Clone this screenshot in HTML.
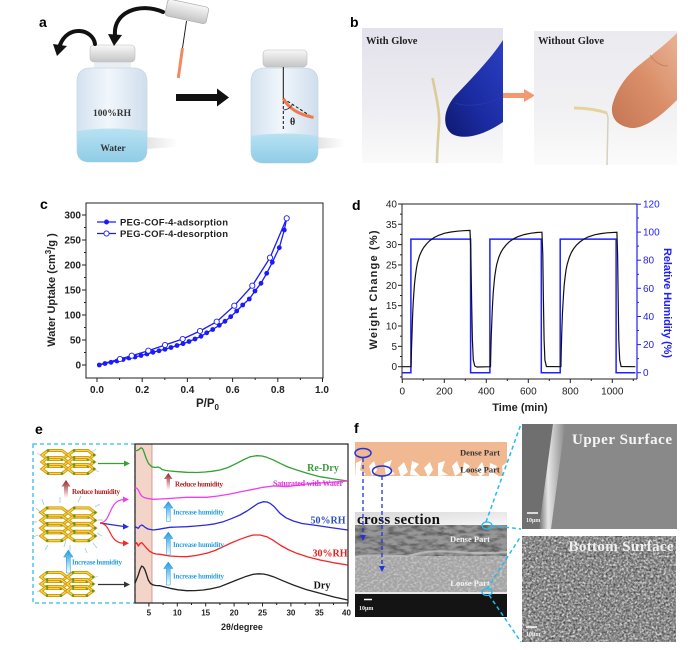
<!DOCTYPE html>
<html><head><meta charset="utf-8">
<style>
html,body{margin:0;padding:0;background:#fff;}
svg{display:block;}
.sans{font-family:"Liberation Sans",Arial,sans-serif;}
.serif{font-family:"Liberation Serif","Times New Roman",serif;}
</style></head><body>
<svg width="688" height="650" viewBox="0 0 688 650" xmlns="http://www.w3.org/2000/svg">
<defs>
 <linearGradient id="capG" x1="0" y1="0" x2="0" y2="1"><stop offset="0" stop-color="#f7f7f7"/><stop offset="1" stop-color="#c4c4c4"/></linearGradient>
 <linearGradient id="bodyG" x1="0" y1="0" x2="1" y2="0"><stop offset="0" stop-color="#d3e2f0"/><stop offset="0.45" stop-color="#f1f6fb"/><stop offset="1" stop-color="#cfdeed"/></linearGradient>
 <linearGradient id="waterG" x1="0" y1="0" x2="0" y2="1"><stop offset="0" stop-color="#b9e2f3"/><stop offset="1" stop-color="#8fcce6"/></linearGradient>
 <linearGradient id="shadowG" x1="0" y1="0" x2="1" y2="0"><stop offset="0" stop-color="#e2e2e2"/><stop offset="1" stop-color="#ffffff"/></linearGradient>
 <linearGradient id="ph1" x1="0" y1="0" x2="0" y2="1"><stop offset="0" stop-color="#e3e1eb"/><stop offset="0.6" stop-color="#eeedf2"/><stop offset="1" stop-color="#fafafa"/></linearGradient>
 <linearGradient id="ph2" x1="0" y1="0" x2="0" y2="1"><stop offset="0" stop-color="#ebeaef"/><stop offset="0.6" stop-color="#f1f1f3"/><stop offset="1" stop-color="#fbfbfb"/></linearGradient>
 <linearGradient id="gloveG" x1="1" y1="0" x2="0" y2="1"><stop offset="0" stop-color="#2a3fc4"/><stop offset="0.6" stop-color="#1a2a9e"/><stop offset="1" stop-color="#0f1a70"/></linearGradient>
 <linearGradient id="skinG" x1="1" y1="0" x2="0" y2="1"><stop offset="0" stop-color="#e9b394"/><stop offset="0.5" stop-color="#d98e68"/><stop offset="1" stop-color="#c47654"/></linearGradient>
 <linearGradient id="upArrR" x1="0" y1="0" x2="0" y2="1"><stop offset="0" stop-color="#9a1f1f"/><stop offset="1" stop-color="#ffffff"/></linearGradient>
 <linearGradient id="upArrB" x1="0" y1="0" x2="0" y2="1"><stop offset="0" stop-color="#1a9be0"/><stop offset="1" stop-color="#ffffff"/></linearGradient>
 <linearGradient id="csTop" x1="0" y1="0" x2="1" y2="1"><stop offset="0" stop-color="#d8d8d8"/><stop offset="1" stop-color="#f8f8f8"/></linearGradient>
 <linearGradient id="band" x1="0" y1="0" x2="1" y2="0"><stop offset="0" stop-color="#6e6e6e"/><stop offset="0.35" stop-color="#e6e6e6"/><stop offset="1" stop-color="#8a8a8a"/></linearGradient>
 <filter id="texD" x="0" y="0" width="1" height="1"><feTurbulence type="fractalNoise" baseFrequency="0.09 0.25" numOctaves="3" seed="4"/><feColorMatrix type="matrix" values="0 0 0 0 0  0 0 0 0 0  0 0 0 0 0  1.8 0 0 0 -0.7"/></filter>
 <filter id="texL" x="0" y="0" width="1" height="1"><feTurbulence type="fractalNoise" baseFrequency="0.35 0.5" numOctaves="2" seed="9"/><feColorMatrix type="matrix" values="0 0 0 0 1  0 0 0 0 1  0 0 0 0 1  2.4 0 0 0 -1.0"/></filter>
 <filter id="texB" x="0" y="0" width="1" height="1"><feTurbulence type="fractalNoise" baseFrequency="0.45" numOctaves="2" seed="2"/><feColorMatrix type="matrix" values="0 0 0 0 1  0 0 0 0 1  0 0 0 0 1  3.2 0 0 0 -1.35"/></filter>
 <filter id="texB2" x="0" y="0" width="1" height="1"><feTurbulence type="fractalNoise" baseFrequency="0.5" numOctaves="2" seed="7"/><feColorMatrix type="matrix" values="0 0 0 0 0  0 0 0 0 0  0 0 0 0 0  2.6 0 0 0 -1.05"/></filter>
 <g id="ring">
  <polygon points="-13,0 -7,-4.5 7,-4.5 13,0 7,4.5 -7,4.5" fill="none" stroke="#d49c10" stroke-width="3"/>
  <polygon points="-13,0 -7,-4.5 7,-4.5 13,0 7,4.5 -7,4.5" fill="none" stroke="#f7d748" stroke-width="1.1"/>
  <circle cx="-7" cy="-4.5" r="1.3" fill="#5c9a1c"/><circle cx="7" cy="4.5" r="1.3" fill="#5c9a1c"/><circle cx="13" cy="0" r="1.3" fill="#5c9a1c"/><circle cx="-7" cy="4.5" r="1.2" fill="#5c9a1c"/>
 </g>
 <g id="layer"><use href="#ring" x="-13" y="0"/><use href="#ring" x="13" y="0"/></g>
 <g id="cof"><use href="#layer" y="-7"/><use href="#layer" y="0"/><use href="#layer" y="7"/></g>
</defs>

<!-- ================= PANEL A ================= -->
<text class="sans" x="39" y="27" font-size="14" font-weight="bold">a</text>
<polygon points="145,137 178,139 178,147 145,149" fill="url(#shadowG)"/>
<polygon points="316,137 345,139 345,147 316,149" fill="url(#shadowG)"/>
<rect x="94" y="60" width="37" height="10" fill="#e9eef3"/>
<path d="M77,82 Q77,68 91,68 L133,68 Q147,68 147,82 L147,150 Q147,162 134,162 L90,162 Q77,162 77,150 Z" fill="url(#bodyG)" stroke="#c9d7e4" stroke-width="0.8"/>
<path d="M77,131 Q112,126 147,131 L147,150 Q147,162 134,162 L90,162 Q77,162 77,150 Z" fill="url(#waterG)"/>
<rect x="90" y="45" width="45" height="17" rx="4" fill="url(#capG)" stroke="#bdbdbd" stroke-width="0.6"/>
<text class="serif" x="112" y="116" font-size="9.5" font-weight="bold" text-anchor="middle" fill="#333">100%RH</text>
<text class="serif" x="113" y="151" font-size="9.5" font-weight="bold" text-anchor="middle" fill="#333">Water</text>
<path d="M95,44 C93,29 68,24 60,45" fill="none" stroke="#111" stroke-width="4" stroke-linecap="round"/>
<polygon points="53,44 67,46 57,56" fill="#111"/>
<path d="M163,12 C140,2 113,12 115,35" fill="none" stroke="#111" stroke-width="4" stroke-linecap="round"/>
<polygon points="108,34 122,35 114,46" fill="#111"/>
<g transform="translate(187,11) rotate(12)"><rect x="-21" y="-8" width="42" height="17" rx="3" fill="url(#capG)" stroke="#aaa" stroke-width="0.7"/></g>
<line x1="186.5" y1="21" x2="182.5" y2="48" stroke="#111" stroke-width="0.9"/>
<line x1="182.5" y1="48" x2="178.3" y2="78" stroke="#f08a60" stroke-width="3"/>
<rect x="176" y="94" width="42" height="7" fill="#111"/>
<polygon points="217,88.5 229,97.5 217,106.5" fill="#111"/>
<rect x="266" y="63" width="38" height="8" fill="#e9eef3"/>
<path d="M251,82 Q251,68 265,68 L304,68 Q318,68 318,82 L318,151 Q318,163 305,163 L264,163 Q251,163 251,151 Z" fill="url(#bodyG)" stroke="#c9d7e4" stroke-width="0.8"/>
<path d="M251,136 Q284,131 318,136 L318,151 Q318,163 305,163 L264,163 Q251,163 251,151 Z" fill="url(#waterG)"/>
<rect x="263" y="50" width="44" height="17" rx="4" fill="url(#capG)" stroke="#bdbdbd" stroke-width="0.6"/>
<line x1="283.3" y1="67" x2="283.3" y2="99" stroke="#111" stroke-width="1"/>
<line x1="283.3" y1="101" x2="283.3" y2="131" stroke="#111" stroke-width="1" stroke-dasharray="3,2"/>
<line x1="283.3" y1="98.5" x2="312" y2="117" stroke="#111" stroke-width="1" stroke-dasharray="3,2"/>
<path d="M283.3,98.5 Q291,113 313.5,117.5" fill="none" stroke="#f07a50" stroke-width="3"/>
<path d="M283.3,110 Q289,110 293,104" fill="none" stroke="#333" stroke-width="0.7"/>
<text class="serif" x="290" y="125" font-size="10" font-weight="bold" fill="#222">θ</text>

<!-- ================= PANEL B ================= -->
<text class="sans" x="350" y="27" font-size="14" font-weight="bold">b</text>
<rect x="362" y="28" width="141" height="135" fill="url(#ph1)"/>
<path d="M503,40 C490,60 470,80 455,96 C443,110 442,127 452,134 C465,141 486,134 503,122 Z" fill="url(#gloveG)"/>
<path d="M455,103 C470,108 490,104 503,96" fill="none" stroke="#2c3db0" stroke-width="1" opacity="0.6"/>
<path d="M432.5,78 C436,95 440,112 439,125 C438,138 437,150 437,163" fill="none" stroke="#dccb94" stroke-width="2.6"/>
<line x1="437" y1="140" x2="437" y2="163" stroke="#cfcfcf" stroke-width="1"/>
<text class="serif" x="366" y="44" font-size="10.5" font-weight="bold" fill="#222">With Glove</text>
<rect x="503" y="93" width="22" height="5" fill="#f59872"/>
<polygon points="524,89 535,95.5 524,102" fill="#f59872"/>
<rect x="534" y="31" width="143" height="134" fill="url(#ph2)"/>
<path d="M677,33 C665,45 648,58 637,67 C625,77 615,92 612,107 C611,118 617,126 631,128 C645,129 662,115 677,100 Z" fill="url(#skinG)"/>
<path d="M650,55 C655,62 660,66 668,66" fill="none" stroke="#b66848" stroke-width="0.8" opacity="0.6"/>
<path d="M574,108 C585,108 598,110 607,113" fill="none" stroke="#e6d29c" stroke-width="3"/>
<path d="M607,113 L608,118 L607,165" fill="none" stroke="#d6d0bf" stroke-width="1.5"/>
<text class="serif" x="538" y="44" font-size="10.5" font-weight="bold" fill="#222">Without Glove</text>

<!-- ================= PANEL C ================= -->
<text class="sans" x="40" y="209" font-size="14" font-weight="bold">c</text>
<rect x="86" y="203" width="237" height="175" fill="none" stroke="#222" stroke-width="1"/>
<g stroke="#222" stroke-width="1">
 <line x1="82" y1="365" x2="86" y2="365"/><line x1="82" y1="340" x2="86" y2="340"/><line x1="82" y1="315" x2="86" y2="315"/><line x1="82" y1="290" x2="86" y2="290"/><line x1="82" y1="265" x2="86" y2="265"/><line x1="82" y1="240" x2="86" y2="240"/><line x1="82" y1="215" x2="86" y2="215"/>
 <line x1="84" y1="352.5" x2="86" y2="352.5"/><line x1="84" y1="327.5" x2="86" y2="327.5"/><line x1="84" y1="302.5" x2="86" y2="302.5"/><line x1="84" y1="277.5" x2="86" y2="277.5"/><line x1="84" y1="252.5" x2="86" y2="252.5"/><line x1="84" y1="227.5" x2="86" y2="227.5"/>
 <line x1="97" y1="378" x2="97" y2="382"/><line x1="142.2" y1="378" x2="142.2" y2="382"/><line x1="187.4" y1="378" x2="187.4" y2="382"/><line x1="232.6" y1="378" x2="232.6" y2="382"/><line x1="277.8" y1="378" x2="277.8" y2="382"/><line x1="322.5" y1="378" x2="322.5" y2="382"/>
 <line x1="119.6" y1="378" x2="119.6" y2="380"/><line x1="164.8" y1="378" x2="164.8" y2="380"/><line x1="210" y1="378" x2="210" y2="380"/><line x1="255.2" y1="378" x2="255.2" y2="380"/><line x1="300.4" y1="378" x2="300.4" y2="380"/>
</g>
<g class="sans" font-size="10" font-weight="bold" fill="#222" text-anchor="end">
 <text x="81" y="368.5">0</text><text x="81" y="343.5">50</text><text x="81" y="318.5">100</text><text x="81" y="293.5">150</text><text x="81" y="268.5">200</text><text x="81" y="243.5">250</text><text x="81" y="218.5">300</text>
</g>
<g class="sans" font-size="10" font-weight="bold" fill="#222" text-anchor="middle">
 <text x="97" y="393">0.0</text><text x="142.2" y="393">0.2</text><text x="187.4" y="393">0.4</text><text x="232.6" y="393">0.6</text><text x="277.8" y="393">0.8</text><text x="322" y="393">1.0</text>
</g>
<text class="sans" transform="translate(55,290) rotate(-90)" font-size="11" font-weight="bold" fill="#222" text-anchor="middle">Water Uptake (cm<tspan font-size="8" dy="-4">3</tspan><tspan dy="4">/g )</tspan></text>
<text class="sans" x="196" y="407" font-size="11.5" font-weight="bold" fill="#222">P/P<tspan font-size="8" dy="3">0</tspan></text>
<line x1="97" y1="222" x2="116" y2="222" stroke="#1a1aff" stroke-width="1.3"/><circle cx="106.5" cy="222" r="2.5" fill="#1a1aff"/>
<text class="sans" x="120" y="225.5" font-size="9.5" font-weight="bold" fill="#222" textLength="108">PEG-COF-4-adsorption</text>
<line x1="97" y1="233.5" x2="116" y2="233.5" stroke="#1a1aff" stroke-width="1.3"/><circle cx="106.5" cy="233.5" r="2.6" fill="#fff" stroke="#1a1aff" stroke-width="0.9"/>
<text class="sans" x="120" y="237" font-size="9.5" font-weight="bold" fill="#222" textLength="108">PEG-COF-4-desorption</text>
<polyline fill="none" stroke="#1a1aff" stroke-width="1.3" points="100,364.5 120,359 131.7,355.7 148.3,350.7 165,345 182.7,339 200,331 216.7,321.7 234.3,305.7 252.3,285.7 270,257.7 286.7,218.3"/>
<polyline fill="none" stroke="#1a1aff" stroke-width="1.3" points="99.3,365 105,363.5 111,362.3 117,361 123,359.5 129,358 135,357 141,355.5 147,354 153,352.3 159,350.8 165,349.3 171,347.5 177,345.5 183,343.7 189,341.5 195,339 201,336.3 206.7,332.8 212.7,329.5 219.3,325.3 225,321.3 230.7,316.7 236.7,311 242.7,305 249.3,299 255,291 261,283.3 266.7,273.3 272.3,262.3 279.3,247.7 284.3,230 286.7,218.3"/>
<g fill="#1a1aff">
 <circle cx="99.3" cy="365" r="2.4"/><circle cx="105" cy="363.5" r="2.4"/><circle cx="111" cy="362.3" r="2.4"/><circle cx="117" cy="361" r="2.4"/><circle cx="123" cy="359.5" r="2.4"/><circle cx="129" cy="358" r="2.4"/><circle cx="135" cy="357" r="2.4"/><circle cx="141" cy="355.5" r="2.4"/><circle cx="147" cy="354" r="2.4"/><circle cx="153" cy="352.3" r="2.4"/><circle cx="159" cy="350.8" r="2.4"/><circle cx="165" cy="349.3" r="2.4"/><circle cx="171" cy="347.5" r="2.4"/><circle cx="177" cy="345.5" r="2.4"/><circle cx="183" cy="343.7" r="2.4"/><circle cx="189" cy="341.5" r="2.4"/><circle cx="195" cy="339" r="2.4"/><circle cx="201" cy="336.3" r="2.4"/><circle cx="206.7" cy="332.8" r="2.4"/><circle cx="212.7" cy="329.5" r="2.4"/><circle cx="219.3" cy="325.3" r="2.4"/><circle cx="225" cy="321.3" r="2.4"/><circle cx="230.7" cy="316.7" r="2.4"/><circle cx="236.7" cy="311" r="2.4"/><circle cx="242.7" cy="305" r="2.4"/><circle cx="249.3" cy="299" r="2.4"/><circle cx="255" cy="291" r="2.4"/><circle cx="261" cy="283.3" r="2.4"/><circle cx="266.7" cy="273.3" r="2.4"/><circle cx="272.3" cy="262.3" r="2.4"/><circle cx="279.3" cy="247.7" r="2.4"/><circle cx="284.3" cy="230" r="2.4"/>
</g>
<g fill="#fff" stroke="#1a1aff" stroke-width="0.9">
 <circle cx="120" cy="359" r="2.6"/><circle cx="131.7" cy="355.7" r="2.6"/><circle cx="148.3" cy="350.7" r="2.6"/><circle cx="165" cy="345" r="2.6"/><circle cx="182.7" cy="339" r="2.6"/><circle cx="200" cy="331" r="2.6"/><circle cx="216.7" cy="321.7" r="2.6"/><circle cx="234.3" cy="305.7" r="2.6"/><circle cx="252.3" cy="285.7" r="2.6"/><circle cx="270" cy="257.7" r="2.6"/><circle cx="286.7" cy="218.3" r="2.6"/>
</g>

<!-- ================= PANEL D ================= -->
<text class="sans" x="352" y="210" font-size="14" font-weight="bold">d</text>
<polyline fill="none" stroke="#222" stroke-width="1" points="637,204 402,204 402,379 637,379"/>
<line x1="637" y1="204" x2="637" y2="379" stroke="#2020ff" stroke-width="1.2"/>
<g stroke="#222" stroke-width="1">
 <line x1="398" y1="366.7" x2="402" y2="366.7"/><line x1="398" y1="346.35" x2="402" y2="346.35"/><line x1="398" y1="326" x2="402" y2="326"/><line x1="398" y1="305.65" x2="402" y2="305.65"/><line x1="398" y1="285.3" x2="402" y2="285.3"/><line x1="398" y1="264.95" x2="402" y2="264.95"/><line x1="398" y1="244.6" x2="402" y2="244.6"/><line x1="398" y1="224.25" x2="402" y2="224.25"/><line x1="398" y1="204" x2="402" y2="204"/>
 <line x1="400" y1="376.9" x2="402" y2="376.9"/><line x1="400" y1="356.5" x2="402" y2="356.5"/><line x1="400" y1="336.2" x2="402" y2="336.2"/><line x1="400" y1="315.8" x2="402" y2="315.8"/><line x1="400" y1="295.5" x2="402" y2="295.5"/><line x1="400" y1="275.1" x2="402" y2="275.1"/><line x1="400" y1="254.8" x2="402" y2="254.8"/><line x1="400" y1="234.4" x2="402" y2="234.4"/><line x1="400" y1="214.1" x2="402" y2="214.1"/>
 <line x1="402.3" y1="379" x2="402.3" y2="383"/><line x1="444.3" y1="379" x2="444.3" y2="383"/><line x1="486.3" y1="379" x2="486.3" y2="383"/><line x1="528.3" y1="379" x2="528.3" y2="383"/><line x1="570.3" y1="379" x2="570.3" y2="383"/><line x1="612.3" y1="379" x2="612.3" y2="383"/>
 <line x1="423.3" y1="379" x2="423.3" y2="381"/><line x1="465.3" y1="379" x2="465.3" y2="381"/><line x1="507.3" y1="379" x2="507.3" y2="381"/><line x1="549.3" y1="379" x2="549.3" y2="381"/><line x1="591.3" y1="379" x2="591.3" y2="381"/><line x1="633.3" y1="379" x2="633.3" y2="381"/>
</g>
<g stroke="#2020ff" stroke-width="1">
 <line x1="637" y1="372.7" x2="641" y2="372.7"/><line x1="637" y1="344.6" x2="641" y2="344.6"/><line x1="637" y1="316.5" x2="641" y2="316.5"/><line x1="637" y1="288.3" x2="641" y2="288.3"/><line x1="637" y1="260.2" x2="641" y2="260.2"/><line x1="637" y1="232.1" x2="641" y2="232.1"/><line x1="637" y1="204.2" x2="641" y2="204.2"/>
 <line x1="637" y1="358.6" x2="639" y2="358.6"/><line x1="637" y1="330.5" x2="639" y2="330.5"/><line x1="637" y1="302.4" x2="639" y2="302.4"/><line x1="637" y1="274.3" x2="639" y2="274.3"/><line x1="637" y1="246.1" x2="639" y2="246.1"/><line x1="637" y1="218" x2="639" y2="218"/>
</g>
<g class="sans" font-size="10" fill="#222" text-anchor="end">
 <text x="397" y="370.2">0</text><text x="397" y="349.9">5</text><text x="397" y="329.5">10</text><text x="397" y="309.2">15</text><text x="397" y="288.8">20</text><text x="397" y="268.5">25</text><text x="397" y="248.1">30</text><text x="397" y="227.8">35</text><text x="397" y="207.5">40</text>
</g>
<g class="sans" font-size="10" fill="#2020ff">
 <text x="643" y="376.2">0</text><text x="643" y="348.1">20</text><text x="643" y="320">40</text><text x="643" y="291.8">60</text><text x="643" y="263.7">80</text><text x="643" y="235.6">100</text><text x="643" y="207.7">120</text>
</g>
<g class="sans" font-size="10" fill="#222" text-anchor="middle">
 <text x="402.3" y="394.5">0</text><text x="444.3" y="394.5">200</text><text x="486.3" y="394.5">400</text><text x="528.3" y="394.5">600</text><text x="570.3" y="394.5">800</text><text x="612.3" y="394.5">1000</text>
</g>
<text class="sans" transform="translate(377,290) rotate(-90)" font-size="11" font-weight="bold" fill="#222" text-anchor="middle" textLength="119">Weight Change (%)</text>
<text class="sans" transform="translate(664,303) rotate(90)" font-size="11" font-weight="bold" fill="#2020ff" text-anchor="middle" textLength="110">Relative Humidity (%)</text>
<text class="sans" x="520" y="411" font-size="11" font-weight="bold" fill="#222" text-anchor="middle">Time (min)</text>
<path d="M402.3,372.7 H410.9 V239.1 H470.6 V372.7 H489.9 V239.1 H541.3 V372.7 H560.2 V239.1 H616.1 V372.7 H635.4" fill="none" stroke="#2020ff" stroke-width="1.5"/>
<polyline fill="none" stroke="#111" stroke-width="1.2" points="402.3,366.7 411.1,366.7 411.5,348.9 412,334.1 412.4,321.8 412.8,311.5 413.2,302.8 413.9,292.3 414.5,284.2 415.4,275.9 416.4,268.5 417.4,263.1 419.5,255.8 421.6,251.1 423.7,247.5 426.9,243.5 430,240.5 434.2,237.5 438.4,235.4 444.7,233.2 451,232 457.3,231.2 463.6,230.7 470,230.4 470.8,250 471.6,300 472.4,340 473.3,360 474.8,366 476.9,367 490.5,366.7 490.9,349.1 491.3,334.5 491.8,322.2 492.2,312 492.6,303.5 493.2,293.1 493.9,285 494.7,276.8 495.8,269.4 496.8,264.1 498.9,256.9 501,252.2 503.1,248.7 506.3,244.7 509.4,241.7 513.6,238.8 517.8,236.7 524.1,234.6 530.4,233.3 536.7,232.5 541.95,232.2 542.8,255 543.4,300 544.1,340 544.9,360 546.4,366.5 560.9,366.7 561.3,349.1 561.7,334.5 562.1,322.3 562.5,312.1 563,303.6 563.6,293.2 564.2,285.1 565.1,277 566.1,269.6 567.2,264.3 569.3,257.2 571.4,252.4 573.5,248.9 576.6,244.9 579.8,242 584,239 588.2,236.9 594.5,234.8 600.8,233.6 607.1,232.8 616.9,232.3 617.6,255 618.2,300 618.8,340 619.7,360 621.1,366.5 635.4,366.7"/>

<!-- ================= PANEL E ================= -->
<text class="sans" x="35" y="434" font-size="14" font-weight="bold">e</text>
<rect x="33" y="444" width="102" height="159" fill="none" stroke="#33bbee" stroke-width="1.3" stroke-dasharray="4,3"/>
<rect x="135" y="444" width="17" height="159" fill="#f3d4c9" stroke="#c88a78" stroke-width="0.8"/>
<rect x="135" y="444" width="213" height="159" fill="none" stroke="#222" stroke-width="1.2"/>
<g stroke="#222" stroke-width="1">
 <line x1="148.9" y1="603" x2="148.9" y2="606.5"/><line x1="177.3" y1="603" x2="177.3" y2="606.5"/><line x1="205.7" y1="603" x2="205.7" y2="606.5"/><line x1="234.1" y1="603" x2="234.1" y2="606.5"/><line x1="262.5" y1="603" x2="262.5" y2="606.5"/><line x1="290.9" y1="603" x2="290.9" y2="606.5"/><line x1="319.3" y1="603" x2="319.3" y2="606.5"/><line x1="347.7" y1="603" x2="347.7" y2="606.5"/>
 <line x1="163.1" y1="603" x2="163.1" y2="605"/><line x1="191.5" y1="603" x2="191.5" y2="605"/><line x1="219.9" y1="603" x2="219.9" y2="605"/><line x1="248.3" y1="603" x2="248.3" y2="605"/><line x1="276.7" y1="603" x2="276.7" y2="605"/><line x1="305.1" y1="603" x2="305.1" y2="605"/><line x1="333.5" y1="603" x2="333.5" y2="605"/>
</g>
<g class="sans" font-size="8" font-weight="bold" fill="#222" text-anchor="middle">
 <text x="148.9" y="615.5">5</text><text x="177.3" y="615.5">10</text><text x="205.7" y="615.5">15</text><text x="234.1" y="615.5">20</text><text x="262.5" y="615.5">25</text><text x="290.9" y="615.5">30</text><text x="319.3" y="615.5">35</text><text x="346.5" y="615.5">40</text>
</g>
<text class="sans" x="242" y="630" font-size="9" font-weight="bold" fill="#222" text-anchor="middle">2θ/degree</text>
<polyline fill="none" stroke="#33a133" stroke-width="1.3" stroke-linejoin="round" points="135,450.7 137,450.5 139,449.5 141,447.8 142.5,448.5 144,452 146,458 148.5,463.5 151.7,466.7 155,467.5 158,467 160,467.8 162,469.5 166,470.5 170,471 178,471.7 187,472.3 197,472.5 205,472 212,471.3 220,470 228,467.5 236.7,463.3 244,459.5 250,456.8 256.7,455.7 262,456 266.7,457.3 273,459.8 280,463.3 288,467 296.7,470 308,473.5 320,476.7 334,479 347.7,481"/>
<polyline fill="none" stroke="#f23cf2" stroke-width="1.3" stroke-linejoin="round" points="135,488.3 136.5,488 138.3,490 140,493.5 141.7,496 144,497.5 146.7,498.3 153.3,499.3 160,499 166.7,498.7 176,498 186.7,497.3 196,497.3 206.7,497.3 218,496 230,494 242,491.5 253.3,489.3 263,487.3 273.3,486 280,486.2 286.7,486.7 296,485.5 306.7,484 320,483 334,482 347.7,481"/>
<polyline fill="none" stroke="#2b2bdd" stroke-width="1.3" stroke-linejoin="round" points="135,526.7 136.7,527.5 138.3,528.3 140,526 141.7,525 143.3,525.8 145,527.3 148,529 153.3,530 158.3,529.3 164,528.3 170,527.3 178,527 186.7,526.7 196,526 206.7,525 215,523.8 223.3,521.7 231,518.8 240,515 247,511 253.3,506.7 258,503.5 263.3,501.7 267,502 270,503.3 274,506.5 280,513.3 286,517.8 293.3,521 302,523.5 313.3,525 330,527.5 347.7,530"/>
<polyline fill="none" stroke="#f52525" stroke-width="1.3" stroke-linejoin="round" points="135,545 136.7,542.7 138.3,546 140,543.5 141.7,542.7 143.5,544.5 146.7,548.3 150,551.5 153.3,553.3 156,554 160,554.3 165,555.2 170,556 178,556.5 186.7,556.7 196,555.5 206.7,553.3 215,550.5 223.3,546.7 231,543 240,539.3 247,536.8 253.3,535 260,535 266.7,536.7 273,540.2 280,545 288,549.5 296.7,553.3 308,557 320,560 334,562.8 347.7,565"/>
<polyline fill="none" stroke="#222" stroke-width="1.3" stroke-linejoin="round" points="135,583.3 136.7,579 138.3,575 140,569.5 141.7,566 143.3,567 145,570 146.7,575 148.3,580 150.5,583.5 153.3,585 156,585.5 160,585.7 165,587 170,588.3 178,589.8 186.7,590.7 195,590.6 203.3,590 211,588.8 220,586.7 228,583.5 236.7,580 245,576.8 253.3,574.3 258,573.8 263.3,574 268,575 273.3,576.7 283,580.8 293.3,585 306,589.5 320,593.3 334,597 347.7,600"/>
<text class="serif" x="323" y="471" font-size="10" font-weight="bold" fill="#3a9a3a" text-anchor="middle">Re-Dry</text>
<text class="serif" x="308" y="486" font-size="8" font-weight="bold" fill="#e22ee2" text-anchor="middle" textLength="70">Saturated with Water</text>
<text class="serif" x="328" y="523.5" font-size="10" font-weight="bold" fill="#2f4fc0" text-anchor="middle">50%RH</text>
<text class="serif" x="330" y="556.5" font-size="10" font-weight="bold" fill="#e02020" text-anchor="middle">30%RH</text>
<text class="serif" x="322" y="588.5" font-size="10" font-weight="bold" fill="#111" text-anchor="middle">Dry</text>
<polygon points="168.3,473 172.5,479 170,479 170,490 166.6,490 166.6,479 164,479" fill="url(#upArrR)"/>
<text class="serif" x="175" y="486.5" font-size="7" font-weight="bold" fill="#b02020" textLength="48">Reduce humidity</text>
<polygon points="168.3,501.5 173,508 170.2,508 170.2,521.5 166.4,521.5 166.4,508 163.6,508" fill="url(#upArrB)" stroke="#1a9be0" stroke-width="0.5"/>
<text class="serif" x="173" y="514.5" font-size="7" font-weight="bold" fill="#2aa0e0" textLength="51">Increase humidity</text>
<polygon points="168.3,532 173,538.5 170.2,538.5 170.2,555 166.4,555 166.4,538.5 163.6,538.5" fill="url(#upArrB)" stroke="#1a9be0" stroke-width="0.5"/>
<text class="serif" x="173" y="547" font-size="7" font-weight="bold" fill="#2aa0e0" textLength="51">Increase humidity</text>
<polygon points="168.3,562 173,568.5 170.2,568.5 170.2,585 166.4,585 166.4,568.5 163.6,568.5" fill="url(#upArrB)" stroke="#1a9be0" stroke-width="0.5"/>
<text class="serif" x="173" y="578.5" font-size="7" font-weight="bold" fill="#2aa0e0" textLength="51">Increase humidity</text>
<use href="#cof" transform="translate(68,462)"/>
<g stroke="#a9cbe6" stroke-width="0.9" fill="none">
 <path d="M40,512 l-4,-4 M44,505 l-2,-6 M60,503 l0,-6 M78,502 l3,-6 M95,507 l5,-3 M98,520 l5,0 M97,533 l5,3 M93,543 l4,5 M70,545 l0,6 M48,545 l-3,5 M38,535 l-5,2 M37,522 l-5,0 M66,540 l-2,7 M85,548 l2,5"/>
</g>
<g transform="translate(68,524) scale(1.04)"><use href="#layer" y="-11"/><use href="#layer" y="-3.5"/><use href="#layer" y="4"/><use href="#layer" y="11.5"/></g>
<use href="#cof" transform="translate(67,584)"/>
<g stroke="#a9cbe6" stroke-width="0.8" fill="none" opacity="0.8">
 <path d="M40,455 l-3,-2 M95,470 l4,2 M92,452 l4,-3 M40,590 l-3,2 M94,578 l4,-2"/>
</g>
<polygon points="66,480 70.5,486.5 68,486.5 68,498 64,498 64,486.5 61.5,486.5" fill="url(#upArrR)"/>
<text class="serif" x="72" y="494" font-size="7" font-weight="bold" fill="#b02020" textLength="48">Reduce humidity</text>
<polygon points="68.3,550 73,557 70.3,557 70.3,573 66.3,573 66.3,557 63.6,557" fill="url(#upArrB)" stroke="#1a9be0" stroke-width="0.5"/>
<text class="serif" x="72" y="564.5" font-size="7" font-weight="bold" fill="#2aa0e0" textLength="50">Increase humidity</text>
<line x1="98" y1="463.5" x2="125" y2="463.5" stroke="#33a133" stroke-width="1.2"/><polygon points="124,460.5 130,463.5 124,466.5" fill="#33a133"/>
<line x1="98" y1="584.5" x2="125" y2="584.5" stroke="#333" stroke-width="1.2"/><polygon points="124,581.5 130,584.5 124,587.5" fill="#333"/>
<path d="M100,523 C112,522 108,500 124,499.5" fill="none" stroke="#f23cf2" stroke-width="1.2"/><polygon points="123,496.5 129,499.5 123,502.5" fill="#f23cf2"/>
<path d="M100,523 L124,526.5" fill="none" stroke="#2b2bdd" stroke-width="1.2"/><polygon points="123,523.5 129,526.8 123,529.5" fill="#2b2bdd"/>
<path d="M100,523 C112,524 108,543 124,543.3" fill="none" stroke="#f52525" stroke-width="1.2"/><polygon points="123,540.3 129,543.3 123,546.3" fill="#f52525"/>

<!-- ================= PANEL F ================= -->
<text class="sans" x="354" y="433" font-size="14" font-weight="bold">f</text>
<rect x="355" y="442" width="152" height="36" fill="#f0b992"/>
<g fill="#fff">
 <polygon points="356,463 362,460 360,470 366,474 358,478 355,478"/>
 <polygon points="369,466 374,461 377,470 372,476"/>
 <polygon points="384,463 392,460 389,468 395,474 386,476"/>
 <polygon points="398,468 404,462 408,472 401,477"/>
 <polygon points="412,461 419,464 414,470 420,476 410,475"/>
 <polygon points="424,468 430,462 433,470 428,477"/>
 <polygon points="438,463 445,461 442,471 448,475 438,476"/>
 <polygon points="452,466 457,461 461,472 455,476"/>
 <polygon points="464,462 470,466 466,471 472,476 462,476"/>
 <polygon points="476,470 482,462 486,472 480,477"/>
 <polygon points="490,463 497,466 493,472 500,477 489,476"/>
 <polygon points="502,466 507,462 507,477 503,477"/>
 <rect x="355" y="476" width="152" height="3"/>
</g>
<text class="serif" x="480" y="455.5" font-size="8.5" font-weight="bold" fill="#333" text-anchor="middle">Dense Part</text>
<text class="serif" x="480" y="472.5" font-size="8.5" font-weight="bold" fill="#333" text-anchor="middle">Loose Part</text>
<ellipse cx="363" cy="453" rx="8" ry="4.5" fill="none" stroke="#2233dd" stroke-width="1.5"/>
<ellipse cx="382" cy="471" rx="9.5" ry="5" fill="none" stroke="#2233dd" stroke-width="1.5"/>
<rect x="355" y="512" width="152" height="14" fill="url(#csTop)"/>
<rect x="355" y="525" width="152" height="33" fill="#979797"/>
<rect x="355" y="525" width="152" height="33" filter="url(#texD)" opacity="0.55"/>
<rect x="355" y="556" width="152" height="37" fill="#a3a3a3"/>
<rect x="355" y="556" width="152" height="37" filter="url(#texL)" opacity="0.45"/>
<path d="M355,557 C380,552 400,560 420,553 C445,548 470,556 507,552" fill="none" stroke="#c8c8c8" stroke-width="2" opacity="0.7"/>
<rect x="355" y="592" width="152" height="2" fill="#e8e8e8"/>
<rect x="355" y="594" width="152" height="23" fill="#141414"/>
<text class="serif" x="357" y="524" font-size="15" font-weight="bold" fill="#111" textLength="83">cross section</text>
<text class="serif" x="470" y="542" font-size="8.5" font-weight="bold" fill="#f4f4f4" text-anchor="middle">Dense Part</text>
<text class="serif" x="470" y="586" font-size="8.5" font-weight="bold" fill="#f4f4f4" text-anchor="middle">Loose Part</text>
<line x1="364" y1="599.5" x2="372" y2="599.5" stroke="#fff" stroke-width="1.5"/>
<text class="serif" x="359" y="610" font-size="6" font-weight="bold" fill="#eee">10μm</text>
<line x1="363" y1="458" x2="363" y2="536" stroke="#2233dd" stroke-width="1.3" stroke-dasharray="4,3"/>
<polygon points="360,535 366,535 363,541" fill="#2233dd"/>
<line x1="382" y1="476" x2="382" y2="567" stroke="#2233dd" stroke-width="1.3" stroke-dasharray="4,3"/>
<polygon points="379,566 385,566 382,572" fill="#2233dd"/>
<rect x="522" y="424" width="155" height="105" fill="#898989"/>
<polygon points="522,424 553,424 539,529 522,529" fill="#6f6f6f"/>
<polygon points="553,424 565,424 551,529 539,529" fill="url(#band)"/>
<text class="serif" x="622" y="444" font-size="15" font-weight="bold" fill="#f6f6f6" text-anchor="middle" textLength="100">Upper Surface</text>
<line x1="527" y1="513" x2="538" y2="513" stroke="#fff" stroke-width="1.5"/>
<text class="serif" x="526" y="522" font-size="6" font-weight="bold" fill="#eee">10μm</text>
<rect x="522" y="536" width="154" height="106" fill="#8b8b8b"/>
<rect x="522" y="536" width="154" height="106" filter="url(#texB)" opacity="0.7"/>
<rect x="522" y="536" width="154" height="106" filter="url(#texB2)" opacity="0.5"/>
<text class="serif" x="621" y="551" font-size="15" font-weight="bold" fill="#f0f0f0" text-anchor="middle" textLength="105">Bottom Surface</text>
<line x1="526" y1="627" x2="537" y2="627" stroke="#fff" stroke-width="1.5"/>
<text class="serif" x="526" y="636" font-size="6" font-weight="bold" fill="#eee">10μm</text>
<g stroke="#22bbee" stroke-width="1.5" stroke-dasharray="4,3" fill="none">
 <line x1="486" y1="522" x2="521" y2="424"/>
 <line x1="491" y1="525.5" x2="521" y2="529"/>
 <line x1="487" y1="589" x2="521" y2="536"/>
 <line x1="489" y1="595" x2="521" y2="642"/>
</g>
<ellipse cx="487" cy="525.5" rx="5" ry="3.5" fill="none" stroke="#22bbee" stroke-width="1.3"/>
<ellipse cx="487" cy="592" rx="5" ry="3.5" fill="none" stroke="#22bbee" stroke-width="1.3"/>
</svg>
</body></html>
